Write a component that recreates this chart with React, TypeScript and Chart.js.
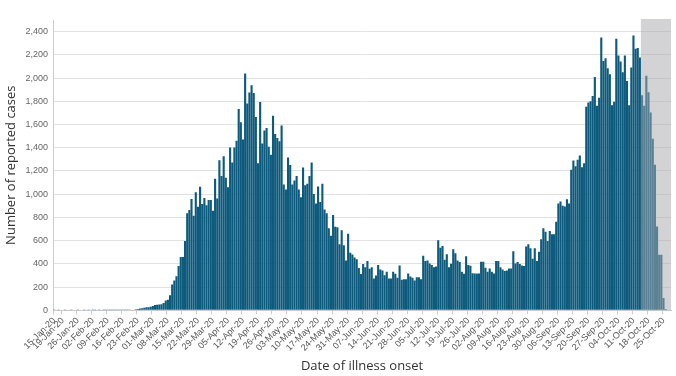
import React, { useEffect, useRef } from 'react';
import { Chart, registerables } from 'chart.js';

Chart.register(...registerables);

// Daily reported cases by date of illness onset (15-Jan-20 .. 28-Oct-20)
const janValues = [2, 0, 1, 0, 0, 1, 0, 0, 1, 0, 0, 1, 0, 0, 1, 0, 1];
const febValues = [0, 1, 1, 0, 1, 0, 1, 1, 2, 1, 1, 2, 1, 2, 3, 2, 3, 4, 3, 5, 6, 9, 12, 15, 18, 22, 26, 26, 30];
const marValues = [37, 45, 49, 50, 52, 63, 84, 92, 130, 222, 257, 294, 381, 459, 459, 598, 837, 863, 958, 814, 1016, 892, 1065, 915, 968, 904, 950, 950, 857, 1133, 962];
const aprValues = [1292, 1156, 1327, 1142, 1060, 1403, 1272, 1403, 1461, 1733, 1620, 1472, 2040, 1780, 1875, 1939, 1872, 1664, 1266, 1794, 1437, 1548, 1571, 1408, 1339, 1675, 1519, 1484, 1455, 1591];
const mayValues = [1084, 1040, 1316, 1252, 1084, 1118, 1156, 1040, 973, 1229, 1078, 1089, 1156, 1272, 1002, 921, 1066, 933, 1089, 869, 837, 707, 643, 820, 720, 715, 570, 690, 560, 430, 660];
const junValues = [495, 480, 455, 440, 365, 314, 400, 370, 425, 358, 372, 274, 300, 390, 352, 343, 303, 332, 274, 274, 332, 315, 280, 387, 263, 268, 268, 318, 292, 280];
const julValues = [257, 286, 286, 268, 470, 424, 430, 404, 390, 372, 378, 603, 540, 554, 436, 482, 372, 401, 525, 491, 430, 416, 332, 315, 465, 390, 384, 320, 318, 318, 318];
const augValues = [419, 419, 367, 332, 361, 332, 318, 424, 424, 372, 352, 338, 343, 361, 361, 508, 404, 416, 398, 387, 381, 549, 569, 534, 445, 534, 424, 505, 612, 707, 676];
const sepValues = [598, 684, 655, 655, 762, 921, 938, 901, 895, 956, 921, 1210, 1290, 1241, 1296, 1334, 1233, 1267, 1752, 1790, 1801, 1845, 2009, 1761, 1830, 2350, 2148, 2171, 2084, 2032];
const octValues = [1767, 1796, 2338, 2194, 2142, 2050, 2194, 1975, 1767, 2090, 2367, 2252, 2258, 2177, 1853, 1761, 2021, 1877, 1703, 1478, 1253, 722, 479, 479, 107, 12, 0, 0];

const firstDate = { year: 2020, month: 0, day: 15 };
const dayCount = 288;
const monthNames = ['Jan', 'Feb', 'Mar', 'Apr', 'May', 'Jun', 'Jul', 'Aug', 'Sep', 'Oct', 'Nov', 'Dec'];
const yTickValues = [0, 200, 400, 600, 800, 1000, 1200, 1400, 1600, 1800, 2000, 2200, 2400];
const shadeStartLabel = '14-Oct-20';
const yTitle = 'Number of reported cases';
const xTitle = 'Date of illness onset';

const caseValues = [
  ...janValues, ...febValues, ...marValues, ...aprValues, ...mayValues,
  ...junValues, ...julValues, ...augValues, ...sepValues, ...octValues,
];

function buildLabels(): string[] {
  const out: string[] = [];
  for (let i = 0; i < dayCount; i++) {
    const d = new Date(Date.UTC(firstDate.year, firstDate.month, firstDate.day + i));
    const dd = String(d.getUTCDate()).padStart(2, '0');
    const yy = String(d.getUTCFullYear()).slice(2);
    out.push(`${dd}-${monthNames[d.getUTCMonth()]}-${yy}`);
  }
  return out;
}

const dateLabels = buildLabels();
// first date is labelled, then every Sunday (19-Jan, 26-Jan, ...)
const isLabelled = (i: number) => i === 0 || i % 7 === 4;

const shadePlugin = {
  id: 'shade',
  afterDatasetsDraw(chart: any) {
    const { ctx, chartArea, scales } = chart;
    const idx = dateLabels.indexOf(shadeStartLabel);
    const x0 = scales.x.getPixelForValue(idx) + 1;
    ctx.save();
    ctx.fillStyle = 'rgba(168,168,172,0.5)';
    ctx.fillRect(x0, chartArea.top - 1, chartArea.right - x0, chartArea.bottom - chartArea.top + 1);
    ctx.restore();
  },
};

export default function App() {
  const ref = useRef<HTMLCanvasElement | null>(null);

  useEffect(() => {
    if (!ref.current) return;
    const chart = new Chart(ref.current, {
      type: 'bar',
      data: {
        labels: dateLabels,
        datasets: [
          {
            data: caseValues,
            backgroundColor: '#0e5a7c',
            borderWidth: 0,
            barPercentage: 0.99,
            categoryPercentage: 1,
          },
        ],
      },
      options: {
        animation: false,
        responsive: false,
        devicePixelRatio: 1,
        layout: { padding: { left: 0, right: 5, top: 20, bottom: 2 } },
        plugins: {
          legend: { display: false },
          tooltip: { enabled: false },
        },
        scales: {
          x: {
            afterFit: (scale: any) => {
              scale.paddingLeft = 0;
              scale.paddingRight = 0;
            },
            grid: {
              display: true,
              drawOnChartArea: false,
              drawTicks: true,
              tickLength: 4,
              color: (c: any) => (isLabelled(c.index) ? '#cccccc' : 'rgba(0,0,0,0)'),
            },
            border: { display: true, color: '#cccccc' },
            ticks: {
              autoSkip: false,
              maxRotation: 45,
              minRotation: 45,
              padding: 1,
              color: '#555555',
              font: { family: '"Liberation Sans", Arial, sans-serif', size: 9 },
              callback: (_v: any, i: number) => (isLabelled(i) ? dateLabels[i] : ''),
            },
            title: {
              display: true,
              text: xTitle,
              color: '#333333',
              font: { family: '"Open Sans", sans-serif', size: 13 },
              padding: { top: 4, bottom: 0 },
            },
          },
          y: {
            min: 0,
            max: 2500,
            afterBuildTicks: (scale: any) => {
              scale.ticks = yTickValues.map((v) => ({ value: v }));
            },
            grid: { color: '#e2e2e2', drawTicks: false, lineWidth: 1 },
            border: { display: true, color: '#cccccc' },
            ticks: {
              padding: 5,
              color: '#666666',
              font: { family: '"Liberation Sans", Arial, sans-serif', size: 9 },
              callback: (v: any) => Number(v).toLocaleString('en-US'),
            },
            title: {
              display: true,
              text: yTitle,
              color: '#333333',
              font: { family: '"Open Sans", sans-serif', size: 13 },
              padding: { top: 3, bottom: 2 },
            },
          },
        },
      },
      plugins: [shadePlugin],
    });
    return () => chart.destroy();
  }, []);

  return (
    <div style={{ position: 'absolute', left: 0, top: 0, width: 676, height: 376, background: '#fff' }}>
      <canvas ref={ref} width={676} height={376} />
    </div>
  );
}
